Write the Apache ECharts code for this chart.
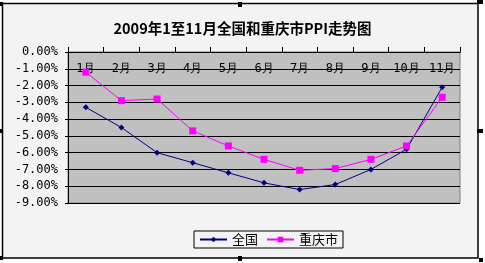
<!DOCTYPE html>
<html><head><meta charset="utf-8">
<script src="https://cdn.jsdelivr.net/npm/echarts@6/dist/echarts.min.js"></script>
<style>html,body{margin:0;padding:0;background:#fff;}#c{width:485px;height:263px;}</style>
</head><body><div id="c"></div>
<script>
const title = '2009年1至11月全国和重庆市PPI走势图';
const categories = ['1月','2月','3月','4月','5月','6月','7月','8月','9月','10月','11月'];
const nationalName = '全国';
const chongqingName = '重庆市';
const national = [-3.3,-4.5,-6.0,-6.6,-7.2,-7.8,-8.2,-7.9,-7.0,-5.8,-2.1];
const chongqing = [-1.2,-2.9,-2.8,-4.7,-5.6,-6.4,-7.05,-6.95,-6.4,-5.6,-2.7];
const yMin = -9, yMax = 0, yStep = 1;

const chart = echarts.init(document.getElementById('c'));
const handle = (x,y,w,h)=>({type:'rect',shape:{x:x,y:y,width:w,height:h},style:{fill:'#000'},z:10});
chart.setOption({
  animation:false,
  backgroundColor:'#fff',
  graphic:[
    {type:'rect',shape:{x:2.5,y:3.5,width:475.5,height:254.5},style:{fill:'#f3f3f3',stroke:'#000',lineWidth:1.5},z:-10,silent:true},
    handle(238,2,4,5), handle(477,129,6,4), handle(0,129,3,4), handle(238,256,4,5),
    handle(0,2,3,4), handle(477,0,6,4), handle(0,256,3,4), handle(479,258,4,4)
  ],
  title:{text:title,left:'center',top:16,textStyle:{fontFamily:'Noto Sans CJK SC',fontSize:14.5,fontWeight:'bold',color:'#000'}},
  grid:{left:68,right:25,top:52,bottom:60,show:true,backgroundColor:'#c0c0c0',borderColor:'#808080',borderWidth:1},
  legend:{
    bottom:15,left:194,
    data:[nationalName,chongqingName],
    itemWidth:27,itemHeight:7,itemGap:8,
    padding:[2,5,2,5],
    borderColor:'#000',borderWidth:1,backgroundColor:'#f3f3f3',
    textStyle:{fontFamily:'Noto Sans CJK SC',fontSize:13,color:'#000'}
  },
  xAxis:{
    type:'category',data:categories,position:'top',boundaryGap:true,
    axisLine:{show:true,lineStyle:{color:'#000',width:1}},
    axisTick:{show:true,length:5,alignWithLabel:false,lineStyle:{color:'#000'}},
    axisLabel:{inside:true,margin:11,interval:0,fontFamily:'DejaVu Sans Mono',fontSize:12,color:'#000'},
    splitLine:{show:false}
  },
  yAxis:{
    type:'value',min:yMin,max:yMax,interval:yStep,
    axisLine:{show:true,lineStyle:{color:'#000'}},
    axisTick:{show:true,length:3,lineStyle:{color:'#000'}},
    axisLabel:{margin:10,fontFamily:'DejaVu Sans Mono',fontSize:12,color:'#000',formatter:v=>v.toFixed(2)+'%'},
    splitLine:{show:true,lineStyle:{color:'#000',width:1}}
  },
  series:[
    {name:nationalName,type:'line',data:national,symbol:'diamond',symbolSize:6,
     lineStyle:{color:'#000080',width:1},itemStyle:{color:'#000080'}},
    {name:chongqingName,type:'line',data:chongqing,symbol:'rect',symbolSize:7,
     lineStyle:{color:'#ff00ff',width:1},itemStyle:{color:'#ff00ff'}}
  ]
});
</script></body></html>
